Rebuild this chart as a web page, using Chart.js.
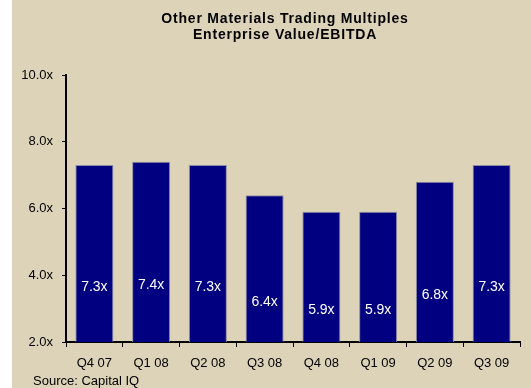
<!DOCTYPE html>
<html>
<head>
<meta charset="utf-8">
<script src="https://cdn.jsdelivr.net/npm/chart.js@4.4.1/dist/chart.umd.min.js"></script>
<style>
  html, body { margin: 0; padding: 0; background: #ffffff; }
  #wrap { position: relative; width: 531px; height: 388px; }
</style>
</head>
<body>
<div id="wrap"><canvas id="multiplesChart"></canvas></div>
<script>
// Quarterly EV/EBITDA multiples
const quarters = ['Q4 07', 'Q1 08', 'Q2 08', 'Q3 08', 'Q4 08', 'Q1 09', 'Q2 09', 'Q3 09'];
const evEbitda = [7.3, 7.4, 7.3, 6.4, 5.9, 5.9, 6.8, 7.3];
const yTicks = [2, 4, 6, 8, 10];
const titleLines = ['Other Materials Trading Multiples', 'Enterprise Value/EBITDA'];
const sourceNote = 'Source: Capital IQ';

const FONT = 'Arial, "Liberation Sans", sans-serif';
const PANEL = '#ddd3b8';

// beige panel, title and source line
const framePlugin = {
    id: 'frame',
    beforeDraw(chart) {
        const ctx = chart.ctx;
        ctx.save();
        ctx.fillStyle = PANEL;
        ctx.fillRect(12, 0, chart.width - 12, chart.height);
        ctx.restore();
    },
    afterDraw(chart) {
        const ctx = chart.ctx;
        ctx.save();
        ctx.fillStyle = '#000000';
        ctx.textAlign = 'center';
        ctx.textBaseline = 'middle';
        ctx.font = 'bold 14px ' + FONT;
        ctx.letterSpacing = '0.8px';
        titleLines.forEach((line, i) => ctx.fillText(line, 285, 19 + i * 16));
        ctx.letterSpacing = '0px';
        ctx.textAlign = 'left';
        ctx.font = '13px ' + FONT;
        ctx.fillText(sourceNote, 33, 381);
        ctx.restore();
    }
};

// value labels centred inside each bar
const barLabels = {
    id: 'barLabels',
    afterDatasetsDraw(chart) {
        const ctx = chart.ctx;
        const meta = chart.getDatasetMeta(0);
        ctx.save();
        ctx.fillStyle = '#ffffff';
        ctx.font = '14px ' + FONT;
        ctx.textAlign = 'center';
        ctx.textBaseline = 'middle';
        meta.data.forEach((bar, i) => {
            const mid = (bar.y + bar.base) / 2;
            ctx.fillText(evEbitda[i].toFixed(1) + 'x', bar.x, mid);
        });
        ctx.restore();
    }
};

new Chart(document.getElementById('multiplesChart'), {
    type: 'bar',
    data: {
        labels: quarters,
        datasets: [{
            data: evEbitda,
            backgroundColor: '#000080',
            borderColor: '#8c8ca0',
            borderWidth: 1,
            categoryPercentage: 1.0,
            barPercentage: 0.67
        }]
    },
    options: {
        responsive: true,
        maintainAspectRatio: false,
        animation: false,
        layout: {
            padding: { left: 0, right: 11, top: 75, bottom: 16 }
        },
        plugins: {
            legend: { display: false },
            title: { display: false },
            tooltip: { enabled: false }
        },
        scales: {
            x: {
                grid: {
                    offset: true,
                    drawOnChartArea: false,
                    drawTicks: true,
                    tickLength: 5,
                    color: '#000000'
                },
                border: { display: true, color: '#000000', width: 2 },
                ticks: {
                    color: '#000000',
                    font: { family: FONT, size: 13 },
                    padding: 9,
                    maxRotation: 0
                },
                afterFit(scale) { scale.height = 30; }
            },
            y: {
                min: 2,
                max: 10,
                afterBuildTicks(scale) {
                    scale.ticks = yTicks.map(v => ({ value: v }));
                },
                grid: {
                    drawOnChartArea: false,
                    drawTicks: true,
                    tickLength: 4,
                    color: '#000000'
                },
                border: { display: true, color: '#000000', width: 2 },
                ticks: {
                    color: '#000000',
                    font: { family: FONT, size: 13 },
                    padding: 9,
                    callback: v => Number(v).toFixed(1) + 'x'
                },
                afterFit(scale) { scale.width = 66; }
            }
        }
    },
    plugins: [framePlugin, barLabels]
});
</script>
</body>
</html>
